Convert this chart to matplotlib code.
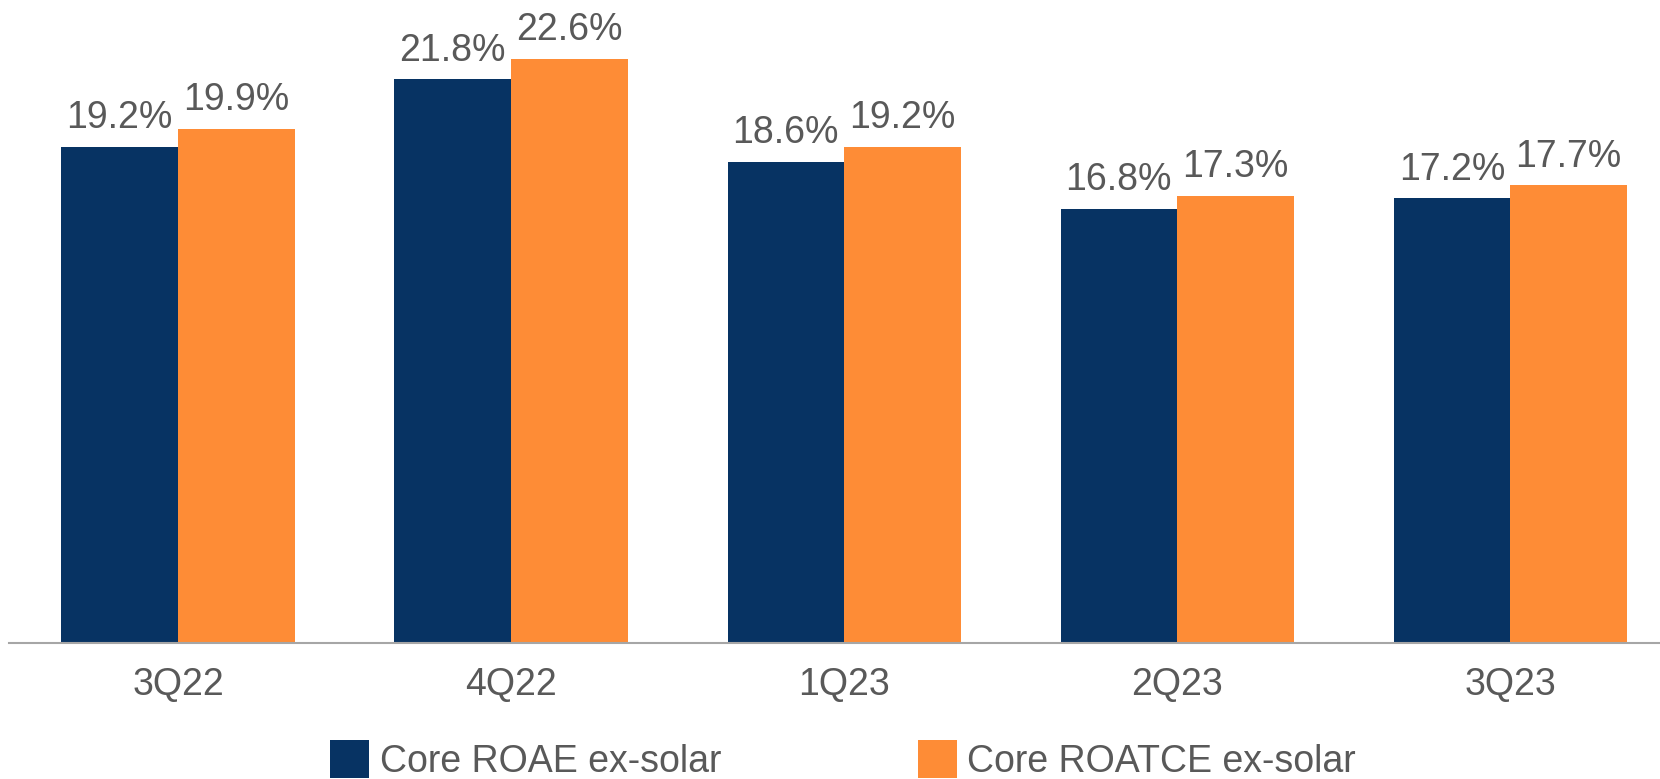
import numpy as np
import matplotlib
matplotlib.use("Agg")
import matplotlib.pyplot as plt

# Quarterly return ratios (%)
quarters = ["3Q22", "4Q22", "1Q23", "2Q23", "3Q23"]
roae = [19.2, 21.8, 18.6, 16.8, 17.2]
roatce = [19.9, 22.6, 19.2, 17.3, 17.7]
series_names = ["Core ROAE ex-solar", "Core ROATCE ex-solar"]

NAVY = "#073363"
ORANGE = "#FE8C36"
TEXT = "#595959"
AXIS = "#A6A6A6"
FS = 27

plt.rcParams["font.family"] = ["Liberation Sans", "DejaVu Sans"]

W, H = 1660, 779
fig = plt.figure(figsize=(W / 100, H / 100), dpi=100)
# axes: baseline at y=643 px, left edge at x=9 px
ax = fig.add_axes([9 / W, (H - 643) / H, 1 - 9 / W, 643 / H])

x = np.arange(len(quarters))
width = 0.35
b1 = ax.bar(x - width / 2, roae, width, color=NAVY, label=series_names[0])
b2 = ax.bar(x + width / 2, roatce, width, color=ORANGE, label=series_names[1])

for bars in (b1, b2):
    for rect in bars:
        ax.annotate(f"{rect.get_height():.1f}%",
                    (rect.get_x() + rect.get_width() / 2, rect.get_height()),
                    xytext=(0, 13.5), textcoords="offset points",
                    ha="center", va="baseline", fontsize=FS, color=TEXT)

ax.set_xlim(-0.5075, 4.45)
ax.set_ylim(0, 643 / 25.85)

ax.set_xticks(x)
ax.set_xticklabels(quarters, fontsize=FS, color=TEXT)
ax.tick_params(axis="x", length=0, pad=17.5)
ax.set_yticks([])

for side in ("top", "right", "left"):
    ax.spines[side].set_visible(False)
ax.spines["bottom"].set_color(AXIS)
ax.spines["bottom"].set_linewidth(1.5)

fig.legend(handles=[b1, b2], loc="upper center",
           bbox_to_anchor=(843 / W, (H - 740) / H), ncol=2, frameon=False,
           fontsize=FS, labelcolor=TEXT, handlelength=1.04, handleheight=1.2,
           handletextpad=0.27, columnspacing=5.25, borderpad=0, borderaxespad=0)

fig.savefig("out.png", dpi=100)
